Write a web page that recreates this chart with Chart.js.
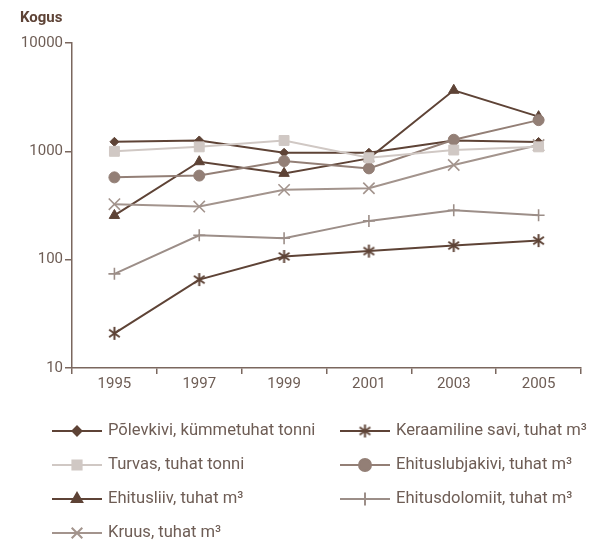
<!DOCTYPE html>
<html>
<head>
<meta charset="utf-8">
<script src="https://cdn.jsdelivr.net/npm/chart.js@4/dist/chart.umd.min.js"></script>
<style>
html,body{margin:0;padding:0;background:#fff;}
#wrap{position:relative;width:592px;height:540px;}
</style>
</head>
<body>
<div id="wrap"><canvas id="c" width="592" height="540"></canvas></div>
<script>
const years = ['1995','1997','1999','2001','2003','2005'];
const yTicks = [10, 100, 1000, 10000];
const polevkivi = [1225, 1260, 970, 970, 1260, 1220];
const turvas = [1000, 1100, 1260, 873, 1028, 1100];
const ehitusliiv = [256, 802, 626, 861, 3660, 2090];
const kruus = [325, 309, 441, 456, 748, 1143];
const keraamiline = [20.9, 65.5, 107, 120, 135, 150];
const lubjakivi = [575, 597, 814, 696, 1279, 1941];
const dolomiit = [74, 168, 158, 228, 286, 257];

const seriesNames = [
  'Põlevkivi, kümmetuhat tonni',
  'Keraamiline savi, tuhat m³',
  'Turvas, tuhat tonni',
  'Ehituslubjakivi, tuhat m³',
  'Ehitusliiv, tuhat m³',
  'Ehitusdolomiit, tuhat m³',
  'Kruus, tuhat m³'
];

const DARK = '#5e4336';
const LIGHT = '#d0c8c4';
const MID = '#937f76';
const GRAY = '#a3948d';
const GRAY2 = '#9c8e88';
const AXIS = '#7a675e';
const TXT = '#6e5d55';

function asterisk(color, size) {
  const c = document.createElement('canvas');
  c.width = size; c.height = size;
  const g = c.getContext('2d');
  g.strokeStyle = color; g.lineWidth = 2;
  const m = size / 2, r = size / 2 - 1;
  g.beginPath();
  g.moveTo(m, m - r); g.lineTo(m, m + r);
  const a = 35 * Math.PI / 180;
  g.moveTo(m - r * Math.cos(a), m - r * Math.sin(a)); g.lineTo(m + r * Math.cos(a), m + r * Math.sin(a));
  g.moveTo(m - r * Math.cos(a), m + r * Math.sin(a)); g.lineTo(m + r * Math.cos(a), m - r * Math.sin(a));
  g.stroke();
  return c;
}
const starImg = asterisk(DARK, 15);

function ds(label, data, color, style, radius) {
  return {
    label, data, borderColor: color, backgroundColor: color,
    pointStyle: style, pointRadius: radius, pointBorderColor: color,
    pointBackgroundColor: color, pointBorderWidth: (style === 'cross' || style === 'crossRot') ? 1.6 : 1,
    borderWidth: 2, tension: 0, pointHoverRadius: radius
  };
}

const datasets = [
  ds(seriesNames[2], turvas, LIGHT, 'rect', 7),
  ds(seriesNames[6], kruus, GRAY, 'crossRot', 8),
  ds(seriesNames[5], dolomiit, GRAY2, 'cross', 6),
  ds(seriesNames[3], lubjakivi, MID, 'circle', 5.5),
  ds(seriesNames[4], ehitusliiv, DARK, 'triangle', 6),
  ds(seriesNames[1], keraamiline, DARK, starImg, 7),
  ds(seriesNames[0], polevkivi, DARK, 'rectRot', 4.5)
];

const legendItems = [
  {name: seriesNames[0], color: DARK, style: 'rectRot', r: 4.5, col: 0, row: 0},
  {name: seriesNames[1], color: DARK, style: starImg, r: 7, col: 1, row: 0},
  {name: seriesNames[2], color: LIGHT, style: 'rect', r: 6.5, col: 0, row: 1},
  {name: seriesNames[3], color: MID, style: 'circle', r: 6, col: 1, row: 1},
  {name: seriesNames[4], color: DARK, style: 'triangle', r: 6, col: 0, row: 2},
  {name: seriesNames[5], color: GRAY2, style: 'cross', r: 6.5, col: 1, row: 2},
  {name: seriesNames[6], color: GRAY, style: 'crossRot', r: 7.5, col: 0, row: 3}
];

const legendPlugin = {
  id: 'customLegend',
  afterDraw(chart) {
    const ctx = chart.ctx;
    ctx.save();
    ctx.fillStyle = DARK;
    ctx.font = 'bold 15px Roboto';
    ctx.textBaseline = 'middle';
    ctx.textAlign = 'left';
    ctx.fillText('Kogus', 20, 18);
    const colX = [52, 340];
    const rowY = [431, 465, 499, 533];
    legendItems.forEach(it => {
      const x0 = colX[it.col], y = rowY[it.row];
      ctx.strokeStyle = it.color;
      ctx.lineWidth = 2;
      ctx.beginPath();
      ctx.moveTo(x0, y); ctx.lineTo(x0 + 50, y);
      ctx.stroke();
      const opts = {pointStyle: it.style, radius: it.r, borderWidth: (it.style === 'cross' || it.style === 'crossRot') ? 1.6 : 1, rotation: 0};
      ctx.fillStyle = it.color;
      ctx.strokeStyle = it.color;
      if (Chart.helpers && Chart.helpers.drawPoint) {
        Chart.helpers.drawPoint(ctx, opts, x0 + 25, y);
      }
      ctx.fillStyle = TXT;
      ctx.font = '16.6px Roboto';
      ctx.textBaseline = 'middle';
      ctx.fillText(it.name, x0 + 56, y);
    });
    ctx.restore();
  }
};

new Chart(document.getElementById('c'), {
  type: 'line',
  data: {labels: years, datasets},
  options: {
    responsive: false,
    animation: false,
    layout: {padding: {top: 43, right: 11, bottom: 0, left: 0}},
    plugins: {legend: {display: false}, tooltip: {enabled: false}},
    scales: {
      x: {
        type: 'category',
        offset: true,
        grid: {display: true, drawOnChartArea: false, drawTicks: true, tickLength: 6, color: AXIS, lineWidth: 1.5, offset: true},
        border: {display: true, color: AXIS, width: 1.5},
        ticks: {color: TXT, font: {family: 'Roboto', size: 15}, padding: 1, maxRotation: 0, autoSkip: false},
        afterFit(s) { s.height = 172; }
      },
      y: {
        type: 'logarithmic',
        min: 10, max: 10000,
        grid: {display: true, drawOnChartArea: false, drawTicks: true, tickLength: 7, color: AXIS, lineWidth: 1.5},
        border: {display: true, color: AXIS, width: 1.5},
        ticks: {color: TXT, font: {family: 'Roboto', size: 15}, padding: 2, callback: v => String(v)},
        afterBuildTicks(s) { s.ticks = yTicks.map(v => ({value: v})); },
        afterFit(s) { s.width = 72; }
      }
    }
  },
  plugins: [legendPlugin]
});
</script>
</body>
</html>
